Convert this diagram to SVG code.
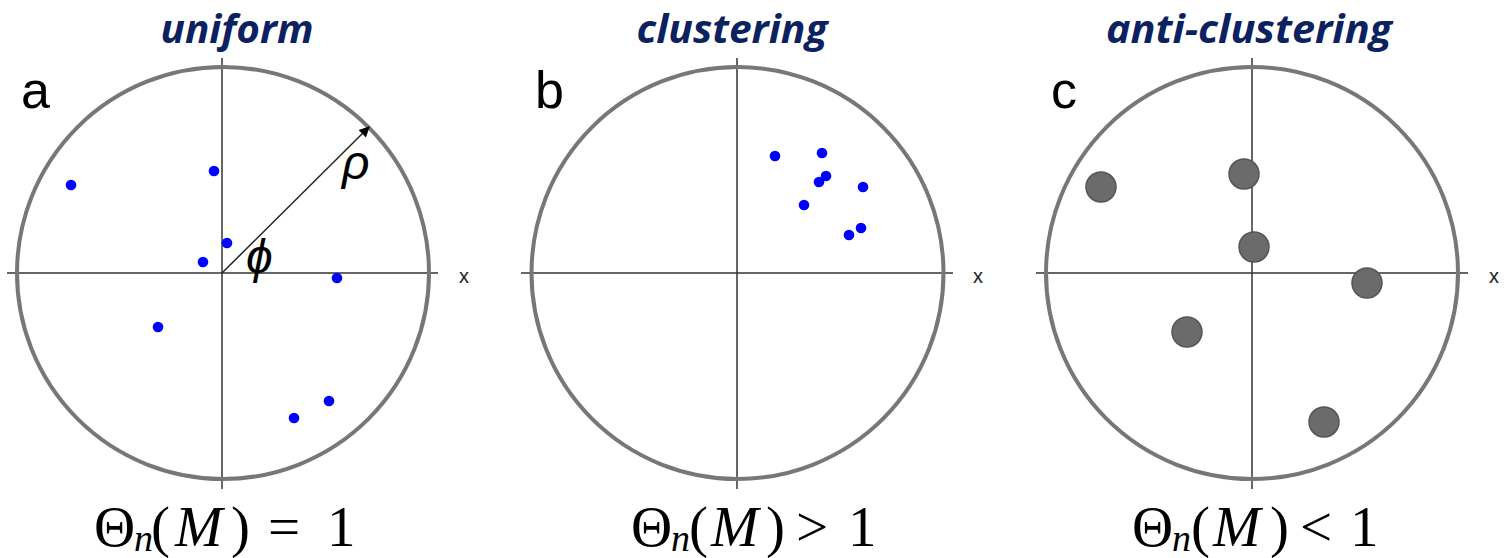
<svg xmlns="http://www.w3.org/2000/svg" width="1507" height="558" viewBox="0 0 1507 558">
<style>
.title{font-family:"Open Sans","Liberation Sans",sans-serif;font-weight:bold;font-style:italic;font-size:40px;fill:#0b2160;text-anchor:middle}
.ring{fill:none;stroke:#777;stroke-width:4}
.axis{stroke:#333;stroke-width:1.5}
.lbl{font-family:"Liberation Sans",Arial,sans-serif;font-size:52px;fill:#000}
.xl{font-family:"Liberation Sans",Arial,sans-serif;font-size:20px;fill:#222}
.bd{fill:#0000ff}
.gd{fill:#6b6b6b;stroke:#555;stroke-width:1.5}
.f{font-family:"Liberation Serif","Times New Roman",serif;font-size:57px;fill:#000}
.it{font-style:italic}
.sym{font-family:"Liberation Sans",Arial,sans-serif;font-style:italic;font-size:48px;fill:#000}
</style>
<defs>
<marker id="ah" viewBox="0 0 10 10" refX="9" refY="5" markerWidth="9" markerHeight="7" orient="auto">
<path d="M0,0 L10,5 L0,10 z" fill="#000"/>
</marker>
</defs>

<g id="panel-a">
<text class="title" x="237" y="43" textLength="153" lengthAdjust="spacingAndGlyphs">uniform</text>
<text class="lbl" x="21" y="108">a</text>
<line class="axis" x1="7" y1="273" x2="438" y2="273"/>
<line class="axis" x1="222" y1="58" x2="222" y2="489"/>
<circle class="ring" cx="223" cy="273" r="206"/>
<text class="xl" x="459" y="283">x</text>
<line x1="222" y1="273" x2="369" y2="127" stroke="#222" stroke-width="1.5" marker-end="url(#ah)"/>
<text class="sym" x="342" y="179">ρ</text>
<text class="sym" x="246" y="273">ϕ</text>
<circle class="bd" cx="71" cy="185" r="5.3"/>
<circle class="bd" cx="214" cy="171" r="5.3"/>
<circle class="bd" cx="227" cy="243" r="5.3"/>
<circle class="bd" cx="203" cy="262" r="5.3"/>
<circle class="bd" cx="337" cy="278" r="5.3"/>
<circle class="bd" cx="158" cy="327" r="5.3"/>
<circle class="bd" cx="329" cy="401" r="5.3"/>
<circle class="bd" cx="294" cy="418" r="5.3"/>
<text class="f" y="546"><tspan x="94">Θ</tspan><tspan x="134" dy="5" class="it" font-size="38">n</tspan><tspan x="151" dy="-5">(</tspan><tspan x="175" class="it">M</tspan><tspan x="231">)</tspan><tspan x="268">=</tspan><tspan x="327">1</tspan></text>
</g>

<g id="panel-b">
<text class="title" x="732" y="43" textLength="191" lengthAdjust="spacingAndGlyphs">clustering</text>
<text class="lbl" x="535" y="108">b</text>
<line class="axis" x1="521" y1="273" x2="953" y2="273"/>
<line class="axis" x1="737" y1="58" x2="737" y2="489"/>
<circle class="ring" cx="737.5" cy="273" r="206"/>
<text class="xl" x="973" y="283">x</text>
<circle class="bd" cx="775" cy="156" r="5.3"/>
<circle class="bd" cx="822" cy="153" r="5.3"/>
<circle class="bd" cx="826" cy="176" r="5.3"/>
<circle class="bd" cx="819" cy="182" r="5.3"/>
<circle class="bd" cx="863" cy="187" r="5.3"/>
<circle class="bd" cx="804" cy="205" r="5.3"/>
<circle class="bd" cx="849" cy="235" r="5.3"/>
<circle class="bd" cx="861" cy="228" r="5.3"/>
<text class="f" y="546"><tspan x="631">Θ</tspan><tspan x="671" dy="5" class="it" font-size="38">n</tspan><tspan x="689" dy="-5">(</tspan><tspan x="711" class="it">M</tspan><tspan x="766">)</tspan><tspan x="796">&gt;</tspan><tspan x="848">1</tspan></text>
</g>

<g id="panel-c">
<text class="title" x="1249" y="43" textLength="286" lengthAdjust="spacingAndGlyphs">anti-clustering</text>
<text class="lbl" x="1051" y="108">c</text>
<line class="axis" x1="1036" y1="273" x2="1468" y2="273"/>
<line class="axis" x1="1252" y1="58" x2="1252" y2="489"/>
<circle class="ring" cx="1252" cy="273" r="206"/>
<text class="xl" x="1489" y="283">x</text>
<circle class="gd" cx="1101" cy="187" r="15"/>
<circle class="gd" cx="1244" cy="174" r="15"/>
<circle class="gd" cx="1254" cy="247" r="15"/>
<circle class="gd" cx="1367" cy="283" r="15"/>
<circle class="gd" cx="1187" cy="332" r="15"/>
<circle class="gd" cx="1324" cy="422" r="15"/>
<text class="f" y="546"><tspan x="1132">Θ</tspan><tspan x="1172" dy="5" class="it" font-size="38">n</tspan><tspan x="1191" dy="-5">(</tspan><tspan x="1213" class="it">M</tspan><tspan x="1270">)</tspan><tspan x="1300">&lt;</tspan><tspan x="1350">1</tspan></text>
</g>

<g id="connectors"></g>
</svg>
